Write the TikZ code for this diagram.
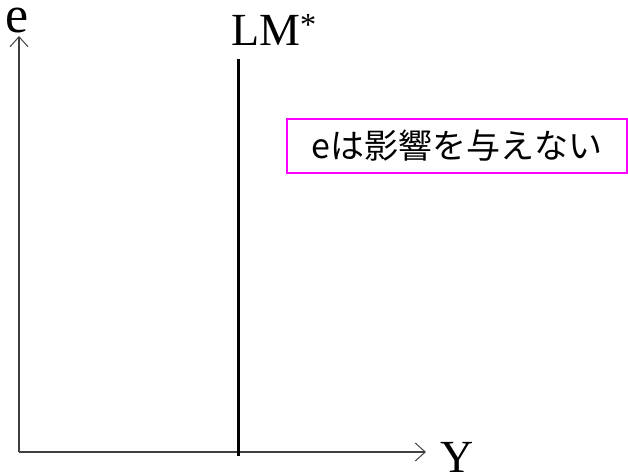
\documentclass[tikz,border=0pt]{standalone}
\usepackage{fontspec}
\setmainfont{Liberation Serif}
\newfontfamily\cjk{Noto Sans CJK JP}
\usetikzlibrary{arrows.meta}
\definecolor{boxmag}{RGB}{255,0,255}
\tikzset{
  axis/.style={draw=black!75, line width=1.2pt, -{Straight Barb[length=10pt,width=18pt,line width=1pt]}},
  lbl/.style={inner sep=0pt, font=\fontsize{46}{46}\selectfont},
  curve/.style={line width=3pt, draw=black},
  note/.style={draw=boxmag, line width=2.5pt, inner sep=0pt, minimum width=340pt, minimum height=54pt, font=\cjk\fontsize{34}{34}\selectfont}
}
\begin{document}
\begin{tikzpicture}[x=1pt,y=-1pt]
\useasboundingbox (0,0) rectangle (628,471);
\coordinate (O) at (19,452);
\coordinate (ytip) at (19,36);
\coordinate (xtip) at (426,452);
\draw[axis] (O) -- (ytip);
\draw[axis] (O) -- (xtip);
\node[lbl, anchor=base, font=\fontsize{52}{52}\selectfont] (elab) at (17,32) {e};
\node[lbl, anchor=base west] (Ylab) at (440,472) {Y};
\node[lbl, anchor=base west] (LMlab) at (231,45) {LM\textsuperscript{*}};
\coordinate (lmtop) at (238,59);
\coordinate (lmbot) at (238,456);
\draw[curve] (lmtop) -- (lmbot);
\node[note] (note) at (457,146) {eは影響を与えない};
\end{tikzpicture}
\end{document}
